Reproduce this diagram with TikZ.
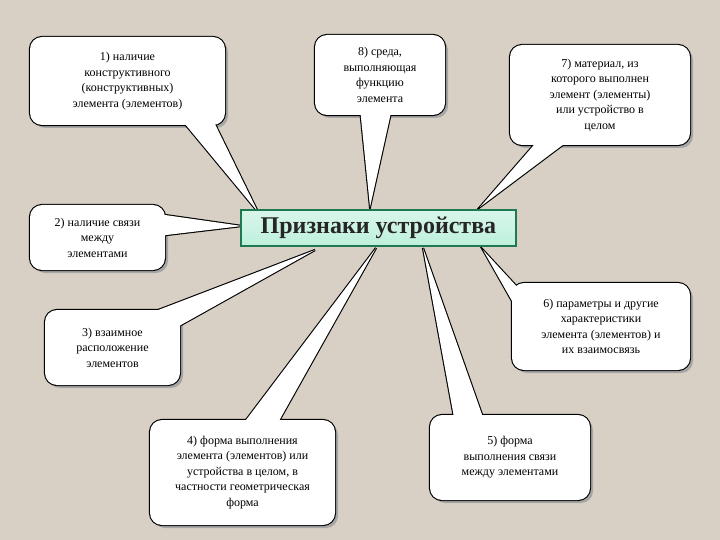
\documentclass[tikz,border=0pt]{standalone}
\usepackage{fontspec}
\setmainfont{Liberation Serif}
\usetikzlibrary{calc}
\definecolor{bgc}{RGB}{216,208,196}
\definecolor{mint}{RGB}{190,240,220}
\definecolor{tealb}{RGB}{30,120,80}
\begin{document}
\begin{tikzpicture}[x=1pt,y=-1pt,
  bub/.style={rounded corners=12pt},
  btxt/.style={align=center,font=\fontsize{12}{15.5}\selectfont,inner sep=0pt},
  ctr/.style={draw=tealb,line width=2.5pt,top color=mint!60,bottom color=mint,minimum width=275pt,minimum height=36pt,font=\fontsize{24}{28}\selectfont\bfseries,text=black!85}]
\fill[bgc] (0,0) rectangle (720,540);
\useasboundingbox (0,0) rectangle (720,540);
\newcommand\bubble[7]{%
  \fill[black!35,bub,shift={(3,3)}] #1 rectangle #2;
  \draw[line width=2.2pt,bub] #1 rectangle #2;
  \draw[line width=2.2pt,line join=miter] #3 -- #5 -- #4 -- cycle;
  \fill[white,bub] #1 rectangle #2;
  \fill[white] #3 -- #5 -- #4 -- cycle;
  \node[btxt] (#7) at ($#1!0.5!#2$) {#6};}
\bubble{(30,37)}{(225,125)}{(180,118)}{(212,118)}{(258,212)}{1) наличие\\конструктивного\\(конструктивных)\\элемента (элементов)}{b1}
\bubble{(315,35)}{(445,115)}{(360,108)}{(392,108)}{(370,207)}{8) среда,\\выполняющая\\функцию\\элемента}{b8}
\bubble{(510,45)}{(690,145)}{(540,138)}{(572,138)}{(480,207)}{7) материал, из\\которого выполнен\\элемент (элементы)\\или устройство в\\целом}{b7}
\bubble{(30,205)}{(165,270)}{(158,214)}{(158,236)}{(242,226)}{2) наличие связи\\между\\элементами}{b2}
\bubble{(512,283)}{(690,370)}{(520,290)}{(520,315)}{(483,250)}{6) параметры и другие\\характеристики\\элемента (элементов) и\\их взаимосвязь}{b6}
\bubble{(45,310)}{(180,385)}{(140,317)}{(172,330)}{(315,250)}{3) взаимное\\расположение\\элементов}{b3}
\bubble{(150,420)}{(335,525)}{(240,428)}{(275,428)}{(376,248)}{4) форма выполнения\\элемента (элементов) или\\устройства в целом, в\\частности геометрическая\\форма}{b4}
\bubble{(430,415)}{(590,500)}{(455,423)}{(485,423)}{(423,248)}{5) форма\\выполнения связи\\между элементами}{b5}
\node[ctr] (c) at (378.5,228) {Признаки устройства};
\end{tikzpicture}
\end{document}
